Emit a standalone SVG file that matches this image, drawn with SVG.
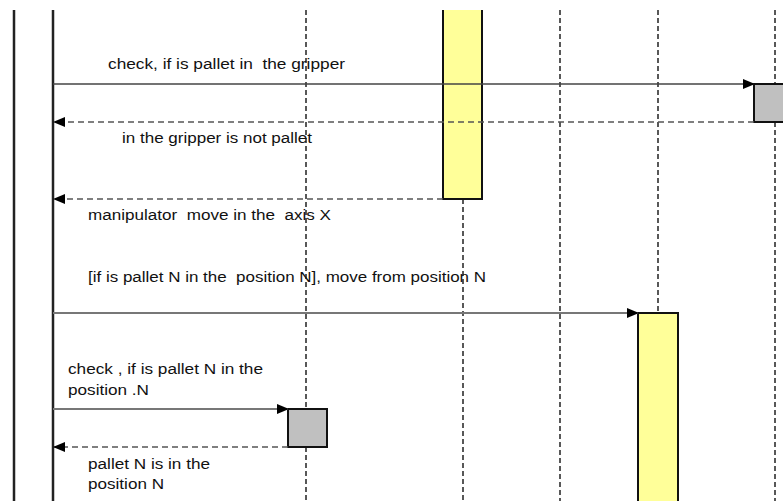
<svg xmlns="http://www.w3.org/2000/svg" width="783" height="501" viewBox="0 0 783 501">
<style>
.frame{stroke:#222;stroke-width:2.5;fill:none}
.life{stroke:#222;stroke-width:1.5;stroke-dasharray:5 3;fill:none}
.act{fill:#FFFF99;stroke:none}
.actb{fill:none;stroke:#111;stroke-width:2}
.box{fill:#C0C0C0;stroke:#111;stroke-width:2}
.msg{stroke:#444;stroke-width:1.6;fill:none}
.msg2{stroke:#777;stroke-width:2;fill:none}
.ret{stroke:#555;stroke-width:1.5;stroke-dasharray:6 4;fill:none}
text{font-family:"Liberation Sans",Arial,sans-serif;font-size:14px;fill:#111}
</style>
<defs>
<marker id="ah" markerWidth="12" markerHeight="10" refX="11" refY="5" orient="auto" markerUnits="userSpaceOnUse">
<path d="M0,0 L12,5 L0,10 Z" fill="#000"/>
</marker>
</defs>
<rect width="783" height="501" fill="#fff"/>
<g id="frame">
<line class="frame" x1="14" y1="10" x2="14" y2="501"/>
<line class="frame" x1="53" y1="10" x2="53" y2="501"/>
</g>
<g id="lifelines">
<path class="life" d="M306,10 V409 M306,447 V501"/>
<path class="life" d="M463,199 V501"/>
<path class="life" d="M560,10 V501"/>
<path class="life" d="M658,10 V313"/>
<path class="life" d="M775,10 V84 M775,122 V501"/>
</g>
<g id="activation1">
<rect class="act" x="443" y="10" width="39" height="189"/>
<path class="actb" d="M443,10 V199 H482 V10"/>
</g>
<g id="activation2">
<rect class="act" x="638" y="313" width="40" height="200"/>
<path class="actb" d="M638,503 V313 H678 V503"/>
</g>
<g id="check1">
<rect class="box" x="754" y="84" width="40" height="38"/>
</g>
<g id="check2">
<rect class="box" x="288" y="409" width="39" height="38"/>
</g>
<g id="connectors">
<line class="msg" x1="53" y1="84" x2="754" y2="84" marker-end="url(#ah)"/>
<line class="ret" x1="754" y1="122" x2="54" y2="122" marker-end="url(#ah)"/>
<line class="ret" x1="443" y1="199" x2="54" y2="199" marker-end="url(#ah)"/>
<line class="msg2" x1="53" y1="313" x2="638" y2="313" marker-end="url(#ah)"/>
<line class="msg2" x1="53" y1="409" x2="288" y2="409" marker-end="url(#ah)"/>
<line class="ret" x1="288" y1="447" x2="54" y2="447" marker-end="url(#ah)"/>
</g>
<g id="labels">
<text x="108" y="69" textLength="237" lengthAdjust="spacingAndGlyphs" xml:space="preserve">check, if is pallet in  the gripper</text>
<text x="122" y="143" textLength="190" lengthAdjust="spacingAndGlyphs">in the gripper is not pallet</text>
<text x="88" y="220" textLength="243" lengthAdjust="spacingAndGlyphs" xml:space="preserve">manipulator  move in the  axis X</text>
<text x="88" y="282" textLength="398" lengthAdjust="spacingAndGlyphs" xml:space="preserve">[if is pallet N in the  position N], move from position N</text>
<text x="68" y="374" textLength="195" lengthAdjust="spacingAndGlyphs">check , if is pallet N in the</text>
<text x="68" y="395" textLength="81" lengthAdjust="spacingAndGlyphs">position .N</text>
<text x="88" y="469" textLength="122" lengthAdjust="spacingAndGlyphs">pallet N is in the</text>
<text x="88" y="489" textLength="76" lengthAdjust="spacingAndGlyphs">position N</text>
</g>
</svg>
